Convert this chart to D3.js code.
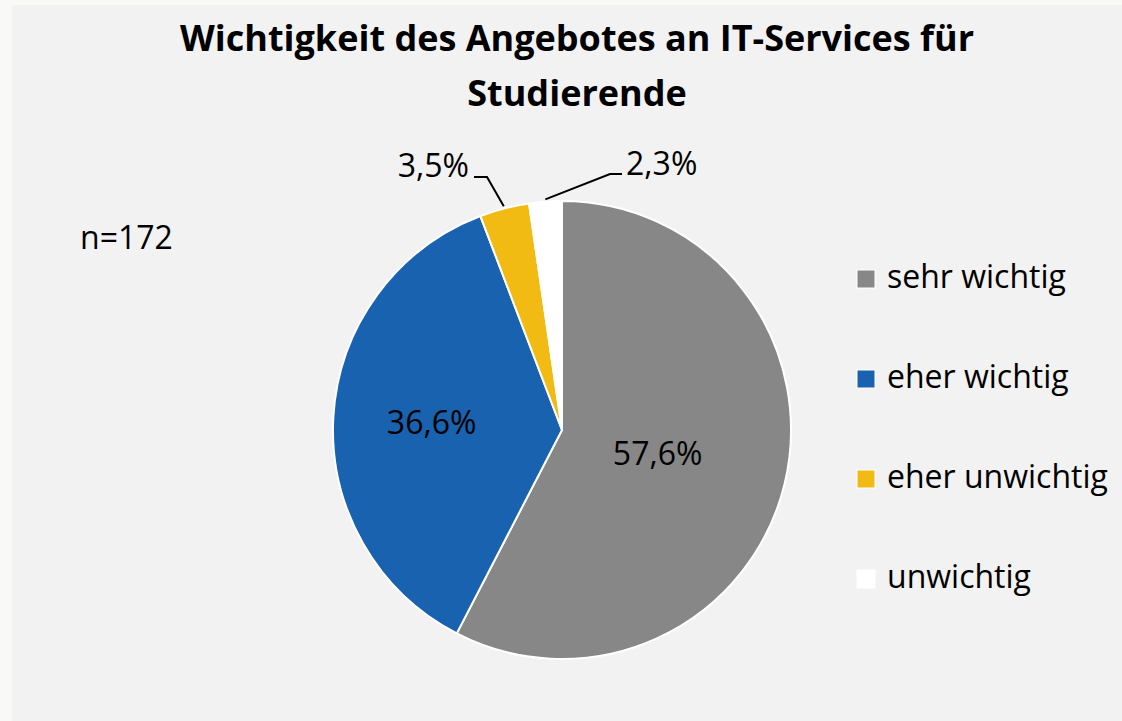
<!DOCTYPE html>
<html lang="de">
  <head>
    <meta charset="UTF-8" />
    <title>Wichtigkeit des Angebotes an IT-Services</title>
    <script src="https://d3js.org/d3.v7.min.js"></script>
    <style>
      body {
        margin: 0;
        padding: 0;
        background: #f9f9f7;
      }
      svg text {
        font-family: "Open Sans", Lato, sans-serif;
        fill: #000;
      }
    </style>
  </head>
  <body>
    <svg id="chart" width="1122" height="721"></svg>
    <script>
      const categories = ["sehr wichtig", "eher wichtig", "eher unwichtig", "unwichtig"];
      const values = [57.6, 36.6, 3.5, 2.3];
      const colors = ["#878787", "#1862b0", "#f2bb14", "#ffffff"];
      const titleLines = ["Wichtigkeit des Angebotes an IT-Services für", "Studierende"];
      const note = "n=172";

      const svg = d3.select("#chart");

      // chart area
      svg.append("rect")
        .attr("x", 12).attr("y", 5)
        .attr("width", 1110).attr("height", 716)
        .attr("fill", "#f2f2f2");

      svg.selectAll(".title")
        .data(titleLines)
        .enter()
        .append("text")
        .attr("class", "title")
        .attr("x", 577)
        .attr("y", (d, i) => 51 + i * 55)
        .attr("text-anchor", "middle")
        .style("font-size", "36px")
        .style("font-weight", "bold")
        .text((d) => d);

      svg.append("text")
        .attr("x", 80).attr("y", 249)
        .style("font-size", "32px")
        .text(note);

      const cx = 562, cy = 430, r = 229;
      const fmt = (v) => v.toFixed(1).replace(".", ",") + "%";

      const pie = d3.pie().sort(null).value((d) => d);
      const arcs = pie(values);
      const arc = d3.arc().innerRadius(0).outerRadius(r);

      const g = svg.append("g").attr("transform", `translate(${cx},${cy})`);

      g.selectAll("path")
        .data(arcs)
        .enter()
        .append("path")
        .attr("d", arc)
        .attr("fill", (d, i) => colors[i])
        .attr("stroke", "#ffffff")
        .attr("stroke-width", 2);

      // labels inside the two large slices
      const labelRadius = [0.43, 0.57];
      g.selectAll(".inlabel")
        .data(arcs.slice(0, 2))
        .enter()
        .append("text")
        .attr("class", "inlabel")
        .attr("transform", (d, i) => {
          const lr = r * labelRadius[i];
          const c = d3.arc().innerRadius(lr).outerRadius(lr).centroid(d);
          return `translate(${c})`;
        })
        .attr("text-anchor", "middle")
        .attr("dy", "0.36em")
        .style("font-size", "32px")
        .text((d) => fmt(d.data));

      // outside labels with leader lines for the small slices
      const outer = d3.arc().innerRadius(r).outerRadius(r);
      const leaders = [
        { i: 2, knee: [487, 177], end: [474, 177], text: [469, 177], anchor: "end" },
        { i: 3, knee: [610, 174], end: [622, 174], text: [626, 175], anchor: "start" }
      ];
      leaders.forEach((l) => {
        const a = arcs[l.i];
        const p = outer.centroid(a);
        const start = [cx + p[0] * 1.01, cy + p[1] * 1.01];
        svg.append("polyline")
          .attr("points", [start, l.knee, l.end].map((q) => q.join(",")).join(" "))
          .attr("fill", "none")
          .attr("stroke", "#000")
          .attr("stroke-width", 2);
        svg.append("text")
          .attr("x", l.text[0]).attr("y", l.text[1])
          .attr("text-anchor", l.anchor)
          .style("font-size", "32px")
          .text(fmt(a.data));
      });

      // legend
      const legend = svg.selectAll(".legend")
        .data(categories)
        .enter()
        .append("g")
        .attr("class", "legend")
        .attr("transform", (d, i) => `translate(857,${270 + i * 100})`);

      legend.append("rect")
        .attr("width", 18).attr("height", 18)
        .attr("fill", (d, i) => colors[i])
        .attr("stroke", "#ffffff")
        .attr("stroke-width", 1);

      legend.append("text")
        .attr("x", 30).attr("y", 18)
        .style("font-size", "32px")
        .text((d) => d);
    </script>
  </body>
</html>
